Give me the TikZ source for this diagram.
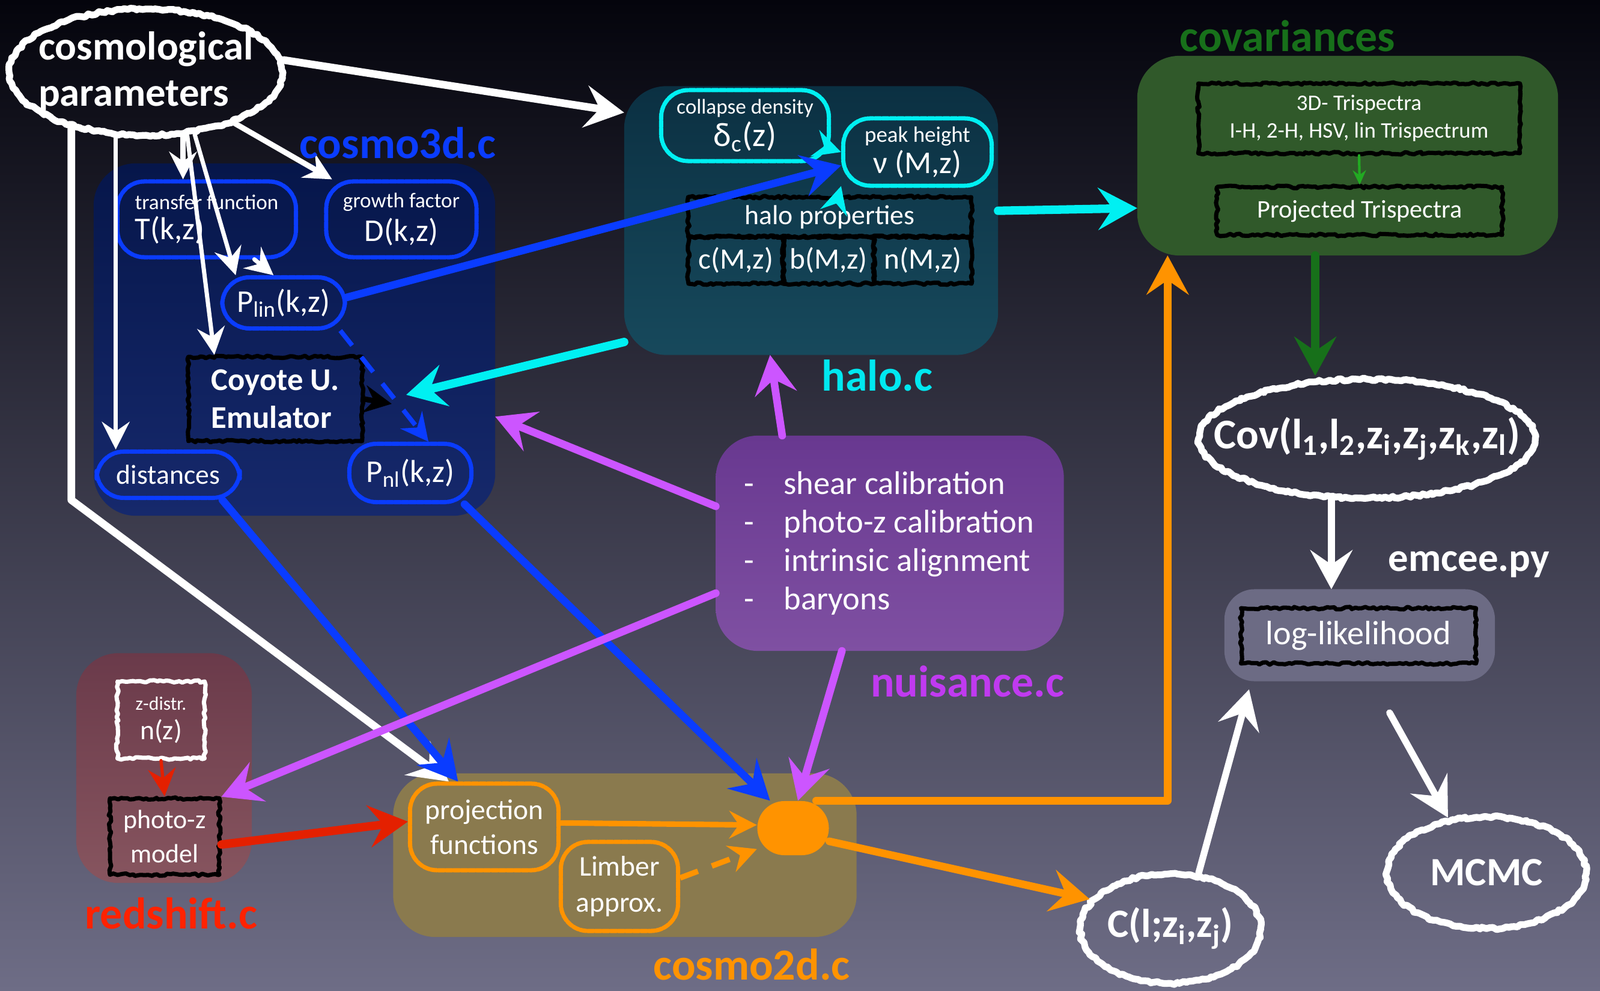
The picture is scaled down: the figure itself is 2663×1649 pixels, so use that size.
\documentclass[tikz,border=0pt]{standalone}
\usepackage{fontspec}
\setmainfont{Carlito}
\usetikzlibrary{arrows.meta,shapes.geometric,decorations.pathmorphing}
\definecolor{bgtop}{HTML}{04040C}
\definecolor{bgmid}{HTML}{262645}
\definecolor{bgbot}{HTML}{6E6D86}
\definecolor{cthreetop}{HTML}{06164A}
\definecolor{cthreebot}{HTML}{16296C}
\definecolor{halotop}{HTML}{0B3042}
\definecolor{halobot}{HTML}{17495C}
\definecolor{covfill}{HTML}{30592A}
\definecolor{nuistop}{HTML}{683890}
\definecolor{nuisbot}{HTML}{7F50A2}
\definecolor{ztop}{HTML}{6A3A4A}
\definecolor{zbot}{HTML}{87555F}
\definecolor{ctwofill}{HTML}{8A7A4E}
\definecolor{likefill}{HTML}{6C6B84}
\definecolor{chalkblue}{HTML}{0A3CFF}
\definecolor{chalkcyan}{HTML}{00F0F2}
\definecolor{chalkpurple}{HTML}{CC55FF}
\definecolor{chalkorange}{HTML}{FF9300}
\definecolor{chalkred}{HTML}{E42000}
\definecolor{covgreen}{HTML}{17701A}
\definecolor{trigreen}{HTML}{22AA22}
\definecolor{labelpurple}{HTML}{C03AF0}
\definecolor{labelred}{HTML}{FF2200}
\definecolor{labelcyan}{HTML}{00E8F0}
\newcommand{\fsz}[2]{\fontsize{#1}{#2}\selectfont}
\tikzset{
    every picture/.style={line cap=round,line join=round},
    chalk/.style={decorate,decoration={random steps,segment length=1.5pt,amplitude=0.6pt}},
    groupbox/.style={rounded corners=7mm,inner sep=0pt,outer sep=0pt},
    softbox/.style={draw,rounded corners=4.5mm,line width=2pt,dash pattern=on 3pt off 0.6pt,
      text=white,align=center,inner sep=2pt},
    hardbox/.style={draw,chalk,line width=2pt,text=white,align=center,inner sep=2pt},
    chalkring/.style={ellipse,draw=white,chalk,line width=3.2pt,inner sep=0pt},
    ringtext/.style={text=white,inner sep=0pt,font=\bfseries\fsz{19}{19}},
    grouplabel/.style={font=\bfseries\fsz{21}{21},inner sep=0pt},
    bigarrow/.style={line width=3.6pt,-{Stealth[length=6.5mm,width=7mm,inset=2.4mm]}},
    midarrow/.style={line width=2.6pt,-{Stealth[length=4.6mm,width=4.6mm,inset=1.6mm]}},
    thinarrow/.style={line width=1.2pt,-{Stealth[length=2.4mm,width=2.2mm]}}
}

\begin{document}
\begin{tikzpicture}[x=0.01cm,y=-0.01cm]
  \useasboundingbox (0,0) rectangle (2663,1649);
  \shade[top color=bgtop,middle color=bgmid,bottom color=bgbot] (0,0) rectangle (2663,1649);

  % module boxes
  \node[groupbox,top color=cthreetop,bottom color=cthreebot,minimum width=6.68cm,minimum height=5.86cm] (cosmothreed) at (490,565) {};
  \node[groupbox,top color=halotop,bottom color=halobot,minimum width=6.22cm,minimum height=4.47cm] (halobox) at (1350,367) {};
  \node[groupbox,fill=covfill,minimum width=7.00cm,minimum height=3.32cm] (covbox) at (2243,259) {};
  \node[groupbox,top color=nuistop,bottom color=nuisbot,minimum width=5.79cm,minimum height=3.58cm] (nuisance) at (1481,904) {};
  \node[groupbox,top color=ztop,bottom color=zbot,minimum width=2.92cm,minimum height=3.82cm] (redshift) at (273,1278) {};
  \node[groupbox,fill=ctwofill,minimum width=7.71cm,minimum height=2.72cm] (cosmotwod) at (1040,1423) {};
  \node[groupbox,fill=likefill,rounded corners=5mm,minimum width=4.50cm,minimum height=1.53cm] (likebox) at (2263,1057) {};

  % cosmo3d.c
  \node[chalkring,minimum width=4.55cm,minimum height=2.1cm] (cosmo) at (243,120) {};
  \node[ringtext,align=left,font=\bfseries\fsz{19}{22}] (cosmotext) at (cosmo) {cosmological\\parameters};
  \node[softbox,draw=chalkblue,align=left,minimum width=2.97cm,minimum height=1.26cm] (transfer) at (344,365) {{\fsz{10}{12}transfer function}\\[2pt]{\fsz{15}{16}T(k,z)}};
  \node[softbox,draw=chalkblue,minimum width=2.50cm,minimum height=1.26cm] (growth) at (668,365) {{\fsz{10}{12}growth factor}\\[2pt]{\fsz{15}{16}D(k,z)}};
  \node[softbox,draw=chalkblue,minimum width=2.04cm,minimum height=0.85cm,font=\fsz{15}{16}] (plin) at (472,504) {P\textsubscript{lin}(k,z)};
  \node[hardbox,draw=black,align=left,minimum width=2.89cm,minimum height=1.40cm,font=\bfseries\fsz{15}{18}] (coyote) at (458,664) {Coyote U.\\Emulator};
  \node[softbox,draw=chalkblue,minimum width=2.38cm,minimum height=0.77cm,font=\fsz{13}{14}] (distances) at (280,790) {distances};
  \node[softbox,draw=chalkblue,minimum width=2.03cm,minimum height=0.97cm,font=\fsz{15}{16}] (pnl) at (683,787) {P\textsubscript{nl}(k,z)};

  % halo.c
  \node[softbox,draw=chalkcyan,minimum width=2.79cm,minimum height=1.18cm] (collapse) at (1240,209) {{\fsz{10}{12}collapse density}\\[1pt]{\fsz{16}{17}δ\textsubscript{c}(z)}};
  \node[softbox,draw=chalkcyan,minimum width=2.47cm,minimum height=1.12cm] (peak) at (1527,253) {{\fsz{10.5}{12}peak height}\\[1pt]{\fsz{15}{16}ν (M,z)}};
  \node[hardbox,draw=black,minimum width=4.71cm,minimum height=0.66cm,font=\fsz{13}{14}] (hptitle) at (1381,361) {halo properties};
  \node[hardbox,draw=black,minimum width=1.58cm,minimum height=0.78cm,font=\fsz{14}{15}] (hpc) at (1225,433) {c(M,z)};
  \node[hardbox,draw=black,minimum width=1.51cm,minimum height=0.78cm,font=\fsz{14}{15}] (hpb) at (1379,433) {b(M,z)};
  \node[hardbox,draw=black,minimum width=1.62cm,minimum height=0.78cm,font=\fsz{14}{15}] (hpn) at (1536,433) {n(M,z)};

  % covariances
  \node[hardbox,draw=black,minimum width=5.35cm,minimum height=1.16cm,font=\fsz{10.5}{13}] (trithree) at (2262,197) {3D- Trispectra\\I-H, 2-H, HSV, lin Trispectrum};
  \node[hardbox,draw=black,minimum width=4.74cm,minimum height=0.80cm,font=\fsz{12}{13}] (tritwo) at (2263,351) {Projected Trispectra};
  \node[chalkring,minimum width=5.6cm,minimum height=1.98cm] (covell) at (2275,730) {};
  \node[ringtext,font=\bfseries\fsz{20}{20}] (covtext) at (covell) {Cov(l\textsubscript{1},l\textsubscript{2},z\textsubscript{i},z\textsubscript{j},z\textsubscript{k},z\textsubscript{l})};

  % nuisance.c
  \node[text=white,anchor=west,inner sep=0pt,font=\fsz{15.5}{18.2}] (nuislist) at (1238,906) {\begin{tabular}{@{}l@{\hspace{14pt}}l@{}}
    - & shear calibration\\
    - & photo-z calibration\\
    - & intrinsic alignment\\
    - & baryons
  \end{tabular}};

  % redshift.c
  \node[hardbox,draw=white,minimum width=1.45cm,minimum height=1.28cm] (zdistr) at (268,1198) {{\fsz{9}{11}z-distr.}\\[2pt]{\fsz{13}{15}n(z)}};
  \node[hardbox,draw=black,minimum width=1.82cm,minimum height=1.27cm,font=\fsz{12.5}{16}] (photoz) at (274,1392) {photo-z\\model};

  % cosmo2d.c
  \node[softbox,draw=chalkorange,minimum width=2.47cm,minimum height=1.44cm,font=\fsz{13.5}{16.5}] (projfun) at (806,1376) {projection\\functions};
  \node[softbox,draw=chalkorange,minimum width=1.95cm,minimum height=1.48cm,font=\fsz{13.5}{17}] (limber) at (1031,1475) {Limber\\approx.};
  \node[fill=chalkorange,rounded corners=4.5mm,minimum width=1.19cm,minimum height=0.90cm] (blob) at (1320,1378) {};

  % emcee.py
  \node[hardbox,draw=black,minimum width=3.91cm,minimum height=0.92cm,font=\fsz{16}{17}] (loglik) at (2261,1058) {log-likelihood};
  \node[chalkring,minimum width=3.32cm,minimum height=1.86cm] (mcmc) at (2474,1452) {};
  \node[ringtext] (mcmctext) at (mcmc) {MCMC};
  \node[chalkring,minimum width=3.0cm,minimum height=1.82cm] (cl) at (1948,1545) {};
  \node[ringtext] (cltext) at (cl) {C(l;z\textsubscript{i},z\textsubscript{j})};

  \coordinate (leftbend) at (119,832);
  \coordinate (emutip) at (652,672);
  \coordinate (halotip) at (676,657);

  % white: parameters
  \draw[bigarrow,white] (cosmo.5) -- (halobox.150);
  \draw[midarrow,white] (cosmo.-30) -- (growth.150);
  \draw[midarrow,white] (cosmo.-60) -- (cosmo.-60 |- transfer.north);
  \draw[midarrow,white,line width=2pt] (cosmo.-52) -- (plin.150);
  \draw[midarrow,white,line width=2pt] (transfer.-40) -- (plin.110);
  \draw[midarrow,white,line width=2pt] (cosmo.-57) -- (coyote.144);
  \draw[midarrow,white,line width=2pt] (cosmo.-115) -- (cosmo.-115 |- distances.north);
  \draw[bigarrow,white] (cosmo.-143) -- (cosmo.-143 |- leftbend) -- (projfun.128);

  % blue
  \draw[bigarrow,chalkblue] (plin.5) -- (peak.190);
  \draw[midarrow,chalkblue,line width=2.2pt,dash pattern=on 9pt off 7pt,line cap=butt] (plin.-26) -- (pnl.60);
  \draw[bigarrow,chalkblue] (distances.-25) -- (projfun.120);
  \draw[bigarrow,chalkblue] (pnl.-30) -- (blob.130);
  \draw[midarrow,black] (coyote.east) -- (emutip);

  % cyan
  \draw[bigarrow,chalkcyan,line width=4pt] (halobox.3) -- (covbox.194);
  \draw[bigarrow,chalkcyan,line width=4pt] (halobox.-147) -- (halotip);
  \draw[midarrow,chalkcyan,line width=1.5pt] (collapse.-15) -- (peak.west);
  \draw[midarrow,chalkcyan,line width=1.5pt] (hptitle.68) -- (peak.-156);

  % purple
  \draw[bigarrow,chalkpurple] (nuisance.135) -- (halobox.-107);
  \draw[bigarrow,chalkpurple] (nuisance.168) -- (cosmothreed.-21);
  \draw[bigarrow,chalkpurple] (nuisance.196) -- (photoz.35);
  \draw[bigarrow,chalkpurple] (nuisance.-114) -- (blob.80);

  % red
  \draw[midarrow,chalkred,line width=1.5pt] (zdistr.south) -- (photoz.north);
  \draw[bigarrow,chalkred,line width=4pt] (photoz.-8) -- (projfun.176);

  % orange
  \draw[midarrow,chalkorange] (projfun.3) -- (blob.175);
  \draw[midarrow,chalkorange,dash pattern=on 9pt off 7pt,line cap=butt] (limber.8) -- (blob.-150);
  \draw[bigarrow,chalkorange] (blob.50) -| (covbox.-151.6);
  \draw[bigarrow,chalkorange] (blob.-20) -- (cl.160);

  % green
  \draw[thinarrow,trigreen] (trithree.south) -- (tritwo.north);
  \draw[bigarrow,covgreen,line width=4pt] (covbox.-108.6) -- (covbox.-108.6 |- covell.north);

  % white: likelihood
  \draw[bigarrow,white,line width=3.2pt] (covell.-120) -- (covell.-120 |- likebox.north);
  \draw[bigarrow,white,line width=3.2pt,shorten >=4pt] (cl.63) -- (likebox.-157);
  \draw[bigarrow,white,line width=3.2pt,shorten <=6mm] (likebox.-75) -- (mcmc.125);

  % module labels
  \node[grouplabel,text=chalkblue] (lblthree) at (662,238) {cosmo3d.c};
  \node[grouplabel,text=labelcyan] (lblhalo) at (1460,625) {halo.c};
  \node[grouplabel,text=covgreen] (lblcov) at (2143,60) {covariances};
  \node[grouplabel,text=labelpurple] (lblnuis) at (1610,1134) {nuisance.c};
  \node[grouplabel,text=labelred] (lblz) at (285,1520) {redshift.c};
  \node[grouplabel,text=chalkorange] (lbltwo) at (1251,1605) {cosmo2d.c};
  \node[grouplabel,text=white,font=\bfseries\fsz{19}{19}] (lblmc) at (2445,939) {emcee.py};
\end{tikzpicture}
\end{document}
